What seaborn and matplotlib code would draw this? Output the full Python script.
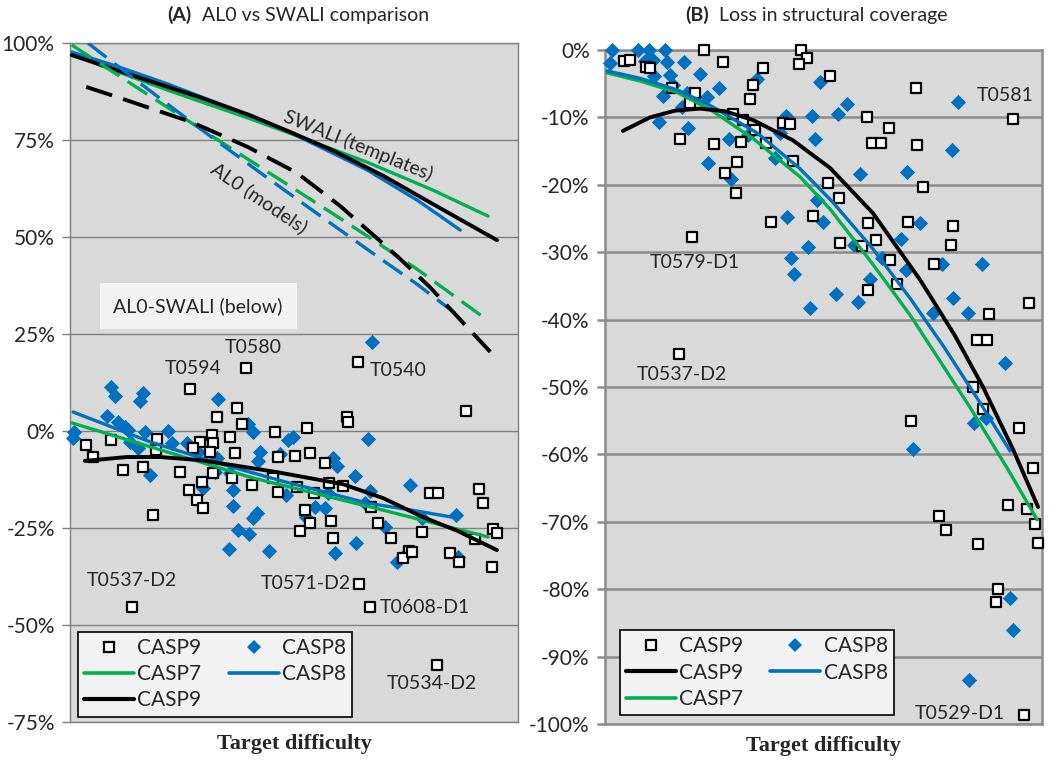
import seaborn as sns
import matplotlib.pyplot as plt
from matplotlib.lines import Line2D
from matplotlib.ticker import FuncFormatter

# ---- (A) AL0 vs SWALI: per-target differences (x = target difficulty, y = %)
a_casp9_x = [39.3, 26.8, 64.3, 88.4, 37.3, 32.8, 61.8, 62.1, 45.8, 52.9, 35.7, 31.7, 31.9, 29.0,
             3.6, 9.2, 19.4, 5.1, 31.3, 36.8, 50.2, 53.6, 46.4, 56.9, 11.8, 16.3, 24.6, 19.2,
             36.2, 40.6, 45.3, 50.7, 60.9, 57.8, 80.4, 82.1, 91.3, 92.2, 26.6, 29.5, 28.3, 29.7,
             46.4, 52.5, 67.2, 18.5, 51.3, 53.6, 58.3, 58.7, 68.8, 71.7, 78.6, 75.7, 74.3, 84.8,
             86.8, 90.4, 94.4, 95.3, 94.2, 64.5, 67.0, 13.8, 81.9, 54.5, 27.5, 38.4, 31.9, 76.3]
a_casp9_y = [16.2, 10.8, 17.8, 5.2, 5.9, 3.6, 3.6, 2.3, -0.3, 0.8, -1.5, -1.0, -3.1, -2.8,
             -3.6, -2.3, -2.1, -6.7, -5.4, -5.7, -6.4, -5.7, -6.7, -8.2, -10.0, -9.3, -10.6, -4.9,
             -12.1, -13.9, -12.1, -14.4, -14.2, -13.4, -16.0, -16.0, -15.0, -18.6, -15.2, -13.1, -17.8, -19.8,
             -15.7, -20.4, -19.6, -21.6, -25.8, -23.7, -23.2, -27.6, -23.7, -27.6, -26.0, -30.9, -32.7, -31.4,
             -33.8, -27.8, -25.3, -26.3, -35.1, -39.4, -45.4, -45.4, -60.3, -16.0, -4.4, 1.8, -10.8, -31.2]

a_casp8_x = [67.4, 9.2, 10.0, 16.3, 15.6, 33.0, 8.3, 10.7, 12.3, 12.9, 16.7, 21.9, 39.7, 40.8,
             0.9, 0.7, 13.4, 15.2, 22.8, 26.1, 28.6, 32.8, 42.4, 42.0, 46.9, 48.7, 49.8, 66.5,
             58.7, 59.6, 17.9, 32.4, 35.7, 63.6, 67.0, 75.9, 29.7, 36.4, 48.2, 54.7, 56.9, 36.4,
             65.8, 86.2, 41.7, 52.7, 40.8, 37.5, 40.0, 35.5, 44.4, 59.2, 63.8, 70.3, 73.0, 74.8,
             86.6, 57.6, 78.6]
a_casp8_y = [22.9, 11.3, 9.0, 9.8, 7.7, 8.2, 3.9, 2.3, 1.0, 0.3, -0.3, 0.0, 1.8, -0.3,
             -0.3, -1.8, -2.8, -4.4, -3.1, -3.1, -5.4, -7.0, -5.4, -7.7, -5.9, -2.3, -1.5, -2.1,
             -7.0, -9.0, -11.3, -10.6, -10.8, -11.6, -15.5, -13.9, -14.7, -15.2, -16.5, -19.6, -19.8, -19.3,
             -18.6, -21.6, -21.1, -22.2, -22.4, -25.5, -26.5, -30.4, -30.9, -31.4, -28.9, -24.7, -33.8, -32.0,
             -32.5, -16.0, -22.4]

# trendlines
swali9_x = [0.4, 14.1, 29.0, 40.2, 49.1, 58.7, 69.9, 81.0, 95.3]
swali9_y = [96.9, 91.6, 86.0, 81.4, 77.1, 72.3, 65.8, 58.5, 49.2]
swali7_x = [0.4, 6.7, 21.7, 39.7, 51.3, 66.3, 81.0, 93.3]
swali7_y = [97.4, 94.3, 87.9, 80.7, 75.8, 69.3, 62.1, 55.4]
swali8_x = [0.4, 10.5, 21.7, 36.4, 49.1, 66.3, 77.5, 87.1]
swali8_y = [97.7, 94.0, 89.5, 83.0, 77.0, 67.3, 59.5, 51.8]
al0_9_x = [3.6, 10.5, 27.2, 39.7, 50.7, 60.3, 68.5, 74.3, 80.4, 87.5, 93.8]
al0_9_y = [88.7, 86.1, 79.6, 73.2, 66.5, 58.0, 49.7, 43.7, 37.0, 28.2, 20.4]
al0_7_x = [0.4, 15.0, 30.6, 47.5, 58.7, 66.3, 77.5, 92.2]
al0_7_y = [99.5, 88.5, 76.8, 64.3, 56.0, 50.3, 41.7, 29.4]
al0_8_x = [4.0, 14.1, 23.0, 31.9, 44.0, 56.9, 69.2, 77.5, 85.9]
al0_8_y = [100.0, 91.0, 83.2, 75.5, 65.3, 54.6, 44.5, 37.8, 30.4]
diff9_x = [3.3, 12.7, 20.1, 29.0, 36.4, 46.2, 60.9, 69.9, 78.8, 86.6, 95.3]
diff9_y = [-7.7, -6.7, -6.7, -7.5, -8.8, -10.6, -13.7, -17.3, -22.2, -25.8, -30.7]
diff7_x = [0.4, 40.2, 69.9, 93.3]
diff7_y = [2.1, -11.9, -20.4, -27.3]
diff8_x = [0.7, 17.9, 32.8, 48.0, 66.5, 76.3, 85.3]
diff8_y = [4.9, -2.8, -8.2, -13.1, -18.6, -20.4, -22.2]

# ---- (B) loss in structural coverage
b_casp9_x = [22.7, 4.3, 5.7, 9.4, 10.3, 27.0, 36.2, 44.9, 46.2, 44.4, 33.9, 33.2, 20.6, 19.5,
             15.3, 17.2, 24.9, 31.1, 29.3, 31.6, 34.3, 36.8, 40.7, 42.3, 43.0, 30.2, 27.5, 30.0,
             38.0, 47.6, 51.0, 19.9, 60.0, 51.5, 71.2, 61.1, 63.2, 65.0, 71.4, 72.8, 53.5, 60.2,
             62.0, 53.8, 58.8, 69.3, 79.6, 79.2, 93.4, 65.2, 75.3, 66.8, 60.2, 97.0, 87.9, 85.1,
             87.4, 84.2, 86.5, 70.0, 94.7, 97.9, 92.2, 96.6, 98.4, 99.1, 76.4, 78.0, 85.4, 89.9,
             89.5, 95.9, 16.9]
b_casp9_y = [0.0, -1.6, -1.5, -2.5, -2.7, -1.8, -2.7, 0.0, -1.2, -2.1, -5.2, -7.3, -6.4, -7.9,
             -5.6, -13.2, -13.9, -13.6, -9.5, -10.4, -11.9, -13.8, -10.8, -11.0, -16.5, -16.6, -18.2, -21.2,
             -25.5, -24.6, -19.7, -27.7, -9.9, -3.9, -5.6, -13.8, -13.8, -11.6, -14.1, -20.3, -22.0, -25.7,
             -28.2, -28.6, -29.1, -25.5, -26.1, -28.9, -10.2, -31.2, -31.8, -34.7, -35.6, -37.5, -39.2, -43.0,
             -43.0, -50.0, -53.3, -55.0, -56.1, -62.0, -67.5, -68.1, -70.3, -73.1, -69.1, -71.2, -73.3, -80.0,
             -81.9, -98.7, -45.1]

b_casp8_x = [1.6, 1.1, 7.6, 10.1, 13.7, 9.2, 11.0, 14.2, 18.1, 11.2, 14.9, 21.7, 15.6, 13.3,
             18.8, 23.3, 26.1, 34.8, 49.2, 17.6, 12.4, 19.0, 28.4, 23.6, 28.8, 32.7, 38.9, 41.4,
             47.4, 48.1, 40.0, 48.5, 49.9, 41.6, 46.5, 42.6, 43.2, 46.9, 55.4, 53.3, 80.8, 79.4,
             69.1, 58.4, 72.1, 67.7, 57.0, 63.4, 68.9, 60.6, 52.9, 57.9, 77.1, 86.3, 79.6, 83.1,
             75.1, 91.5, 84.4, 87.2, 70.5, 92.7, 93.4, 83.3]
b_casp8_y = [0.0, -1.9, 0.0, 0.0, 0.0, -1.6, -1.5, -1.8, -1.8, -3.9, -3.7, -3.6, -5.2, -6.8,
             -6.4, -7.0, -5.6, -4.3, -4.7, -8.5, -10.7, -11.6, -13.2, -16.8, -19.1, -12.6, -16.0, -9.8,
             -9.8, -13.2, -12.3, -22.3, -25.5, -24.8, -29.2, -30.9, -33.2, -38.3, -8.0, -9.5, -7.7, -14.8,
             -18.1, -18.4, -25.7, -28.0, -28.9, -30.9, -32.6, -34.0, -36.2, -37.4, -31.8, -31.8, -36.8, -39.0,
             -39.0, -46.4, -55.3, -54.6, -59.2, -81.3, -86.1, -93.5]

loss9_x = [4.1, 10.3, 16.0, 21.7, 27.5, 33.9, 43.0, 51.5, 61.3, 72.1, 80.0, 86.5, 93.4, 99.1]
loss9_y = [-12.0, -10.0, -9.0, -8.7, -9.1, -10.4, -13.4, -17.5, -24.2, -34.1, -42.3, -50.0, -59.3, -67.8]
loss8_x = [0.5, 8.0, 16.5, 24.0, 34.8, 44.6, 52.0, 61.3, 70.0, 77.5, 85.0, 92.7]
loss8_y = [-3.1, -4.2, -5.9, -8.2, -12.3, -17.6, -22.5, -29.5, -37.0, -44.0, -51.5, -59.5]
loss7_x = [0.5, 8.0, 16.5, 24.0, 34.0, 44.6, 51.5, 61.3, 70.0, 77.0, 83.5, 92.0, 98.9]
loss7_y = [-3.4, -4.6, -6.3, -8.8, -13.2, -18.8, -23.6, -31.8, -39.5, -46.5, -53.0, -62.0, -69.7]

a_labels = [("T0594", 27.5, 16.2), ("T0580", 40.8, 21.6), ("T0540", 73.2, 15.7),
            ("T0537-D2", 13.8, -38.4), ("T0571-D2", 52.7, -39.4),
            ("T0608-D1", 79.2, -45.4), ("T0534-D2", 80.8, -65.2)]
b_labels = [("T0581", 91.5, -6.8), ("T0579-D1", 20.6, -31.5),
            ("T0537-D2", 17.6, -48.1), ("T0529-D1", 81.2, -98.4)]

GREEN = '#00B050'
BLUE = '#0070C0'
BG = '#D9D9D9'

sns.set_style("white")
plt.rcParams['font.family'] = ['Lato', 'DejaVu Sans']

fig = plt.figure(figsize=(10.5, 7.68), dpi=100)
axA = fig.add_axes([0.0667, 0.0599, 0.4267, 0.884])
axB = fig.add_axes([0.5762, 0.0573, 0.4162, 0.8776])

pct = FuncFormatter(lambda v, p: f"{int(round(v))}%")


def draw_points(ax, x9, y9, x8, y8):
    sns.scatterplot(x=x8, y=y8, ax=ax, marker='D', s=60, color=BLUE, linewidth=0,
                    zorder=3, clip_on=False)
    sns.scatterplot(x=x9, y=y9, ax=ax, marker='s', s=50, facecolor='white',
                    edgecolor='black', linewidth=1.6, zorder=4, clip_on=False)


def draw_curve(ax, x, y, color, lw=2.4, dashed=False):
    sns.lineplot(x=x, y=y, ax=ax, color=color, lw=lw, sort=False, estimator=None, zorder=5)
    ax.lines[-1].set_solid_joinstyle('round')
    if dashed:
        ax.lines[-1].set_dashes([7, 3])


# ---------------- panel A
draw_points(axA, a_casp9_x, a_casp9_y, a_casp8_x, a_casp8_y)
draw_curve(axA, swali7_x, swali7_y, GREEN)
draw_curve(axA, swali8_x, swali8_y, BLUE)
draw_curve(axA, swali9_x, swali9_y, 'black', lw=2.8)
draw_curve(axA, al0_7_x, al0_7_y, GREEN, dashed=True)
draw_curve(axA, al0_8_x, al0_8_y, BLUE, dashed=True)
draw_curve(axA, al0_9_x, al0_9_y, 'black', lw=2.8, dashed=True)
draw_curve(axA, diff7_x, diff7_y, GREEN)
draw_curve(axA, diff8_x, diff8_y, BLUE)
draw_curve(axA, diff9_x, diff9_y, 'black', lw=2.8)

axA.text(64.3, 73.7, "SWALI (templates)", rotation=-22, fontsize=14, ha='center', va='center', zorder=6)
axA.text(42.2, 60.1, "AL0 (models)", rotation=-34, fontsize=14, ha='center', va='center', zorder=6)
axA.text(28.6, 32.2, "AL0-SWALI (below)", fontsize=14, ha='center', va='center', zorder=6,
         bbox=dict(facecolor='#F2F2F2', edgecolor='none', pad=10))
for lab, x, y in a_labels:
    axA.text(x, y, lab, fontsize=14, ha='center', va='center', zorder=6)

axA.set_xlim(0, 100)
axA.set_ylim(-75, 100)
axA.set_yticks([100, 75, 50, 25, 0, -25, -50, -75])

# ---------------- panel B
draw_points(axB, b_casp9_x, b_casp9_y, b_casp8_x, b_casp8_y)
draw_curve(axB, loss7_x, loss7_y, GREEN)
draw_curve(axB, loss8_x, loss8_y, BLUE)
draw_curve(axB, loss9_x, loss9_y, 'black', lw=2.8)
for lab, x, y in b_labels:
    axB.text(x, y, lab, fontsize=14, ha='center', va='center', zorder=6)

axB.set_xlim(0, 100)
axB.set_ylim(-100, 0)
axB.set_yticks(range(0, -101, -10))

# ---------------- shared styling
for ax, gw, sc in [(axA, 1.0, '#7F7F7F'), (axB, 1.8, '#8C8C8C')]:
    ax.set_facecolor(BG)
    ax.set_axisbelow(True)
    ax.yaxis.grid(True, color=sc, lw=gw)
    ax.set_xticks([])
    ax.yaxis.set_major_formatter(pct)
    ax.tick_params(axis='y', which='major', left=True, length=6, width=gw, color=sc,
                   labelsize=15, pad=5)
    for s in ax.spines.values():
        s.set_color(sc)
        s.set_linewidth(gw)
    ax.set_xlabel("Target difficulty", fontfamily='Liberation Serif', fontweight='bold',
                  fontsize=16, labelpad=9)
    ax.set_ylabel("")

fig.text(192 / 1050, 0.980, "(A)", fontweight='bold', fontsize=14, ha='right', va='center')
fig.text(202 / 1050, 0.980, "AL0 vs SWALI comparison", fontsize=14, ha='left', va='center')
fig.text(709 / 1050, 0.980, "(B)", fontweight='bold', fontsize=14, ha='right', va='center')
fig.text(719 / 1050, 0.980, "Loss in structural coverage", fontsize=14, ha='left', va='center')

# legends
sq9 = Line2D([], [], marker='s', ls='', mfc='white', mec='black', mew=1.6, ms=7, label='CASP9')
dia8 = Line2D([], [], marker='D', ls='', color=BLUE, mew=0, ms=7, label='CASP8')
ln7 = Line2D([], [], color=GREEN, lw=2.6, label='CASP7')
ln8 = Line2D([], [], color=BLUE, lw=2.6, label='CASP8')
ln9 = Line2D([], [], color='black', lw=3.0, label='CASP9')

leg_kw = dict(ncol=2, fontsize=15, frameon=True, fancybox=False, framealpha=1,
              facecolor='#F2F2F2', edgecolor='black', loc='lower left',
              handlelength=2.4, handletextpad=0.15, labelspacing=0.3,
              columnspacing=1.3, borderpad=0.3, borderaxespad=0)
lgA = axA.legend(handles=[sq9, ln7, ln9, dia8, ln8], bbox_to_anchor=(0.018, 0.008), **leg_kw)
lgB = axB.legend(handles=[sq9, ln9, ln7, dia8, ln8], bbox_to_anchor=(0.034, 0.013), **leg_kw)
for lg in (lgA, lgB):
    lg.get_frame().set_linewidth(1.2)
    lg.set_zorder(10)

fig.savefig("out.png", dpi=100)
